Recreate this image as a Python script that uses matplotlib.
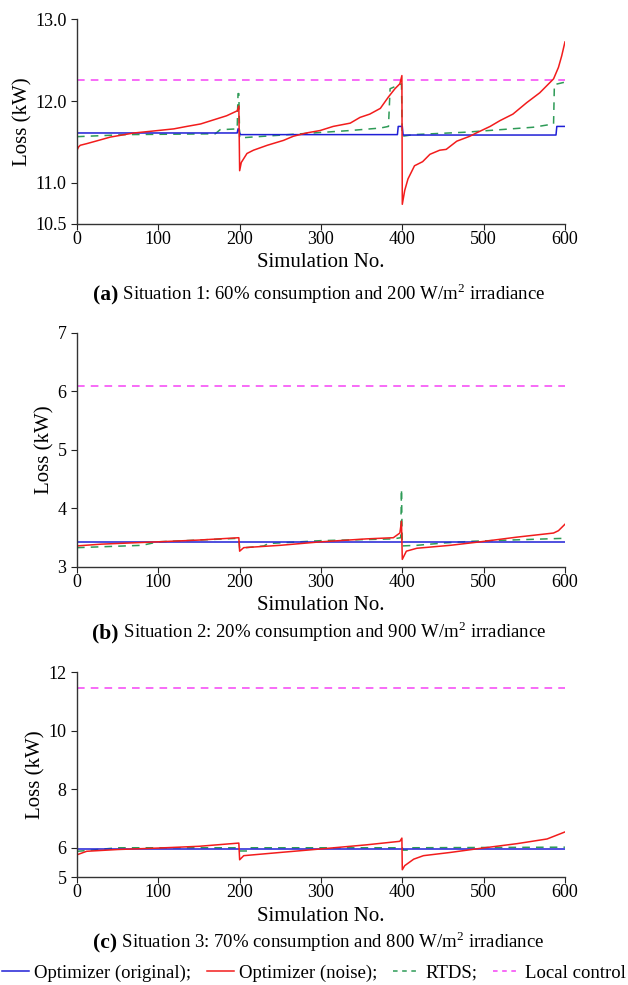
import matplotlib.pyplot as plt
from matplotlib.lines import Line2D
from matplotlib.offsetbox import TextArea, HPacker, AnchoredOffsetbox

plt.rcParams['font.family'] = ['Liberation Serif', 'DejaVu Serif']
plt.rcParams['mathtext.fontset'] = 'custom'
plt.rcParams['mathtext.rm'] = 'Liberation Serif'
plt.rcParams['mathtext.bf'] = 'Liberation Serif:bold'

# ---- Situation 1 ----
s1_orig_x = [0, 197, 198, 199, 200, 201, 394, 395, 400, 401, 589, 590, 600]
s1_orig_y = [11.61, 11.61, 11.66, 11.66, 11.61, 11.59, 11.59, 11.69, 11.69, 11.585, 11.585, 11.69, 11.69]
s1_noise_x = [0, 2, 4, 12, 23, 41, 70, 90, 119, 135, 152, 168, 184, 197, 199, 200,
              202, 209, 217, 234, 254, 266, 282, 299, 315, 336, 348, 360, 373, 383, 391, 397, 399.5, 400,
              403, 407, 415, 425, 434, 446, 454, 467, 483, 491, 508, 520, 536, 553, 569, 586, 592, 596, 600]
s1_noise_y = [11.40, 11.44, 11.46, 11.48, 11.51, 11.56, 11.61, 11.63, 11.66, 11.69, 11.72, 11.77, 11.82, 11.88, 11.94, 11.15,
              11.25, 11.36, 11.40, 11.46, 11.52, 11.57, 11.61, 11.64, 11.69, 11.73, 11.80, 11.84, 11.91, 12.05, 12.15, 12.21, 12.31, 10.74,
              10.91, 11.05, 11.21, 11.26, 11.35, 11.40, 11.41, 11.51, 11.57, 11.61, 11.69, 11.76, 11.84, 11.98, 12.10, 12.27, 12.41, 12.55, 12.72]
s1_rtds_x = [0, 60, 170, 176, 197, 198, 199, 200, 230, 275, 336, 373, 383, 385, 399, 400, 414, 479, 561, 586, 587, 600]
s1_rtds_y = [11.565, 11.59, 11.60, 11.65, 11.66, 12.09, 12.09, 11.55, 11.57, 11.60, 11.64, 11.67, 11.69, 12.15, 12.21, 11.57, 11.59, 11.62, 11.68, 11.72, 12.20, 12.23]
s1_local = 12.26

# ---- Situation 2 ----
s2_orig_x = [0, 600]
s2_orig_y = [3.43, 3.43]
s2_noise_x = [0, 30, 100, 150, 199, 200, 205, 250, 300, 356, 389, 397, 399, 400,
              405, 418, 459, 496, 541, 586, 592, 600]
s2_noise_y = [3.36, 3.39, 3.43, 3.46, 3.50, 3.27, 3.33, 3.37, 3.43, 3.48, 3.50, 3.58, 3.78, 3.13,
              3.27, 3.32, 3.37, 3.43, 3.51, 3.58, 3.62, 3.73]
s2_rtds_x = [0, 80, 100, 199, 200, 230, 235, 300, 389, 398, 399, 400, 418, 451, 487, 600]
s2_rtds_y = [3.33, 3.37, 3.43, 3.49, 3.32, 3.36, 3.40, 3.45, 3.48, 3.50, 4.33, 3.36, 3.37, 3.41, 3.44, 3.49]
s2_local = 6.09

# ---- Situation 3 ----
s3_orig_x = [0, 600]
s3_orig_y = [5.97, 5.97]
s3_noise_x = [0, 12, 50, 100, 150, 199, 200, 205, 250, 300, 356, 397, 399.5, 400,
              403, 414, 426, 459, 496, 541, 578, 600]
s3_noise_y = [5.76, 5.88, 5.94, 5.99, 6.05, 6.16, 5.59, 5.73, 5.84, 5.96, 6.10, 6.22, 6.33, 5.25,
              5.39, 5.61, 5.73, 5.84, 5.98, 6.14, 6.30, 6.54]
s3_rtds_x = [0, 10, 50, 199, 200, 210, 211, 400, 401, 410, 411, 600]
s3_rtds_y = [5.88, 5.90, 6.00, 6.00, 5.89, 5.89, 6.00, 6.00, 5.92, 5.92, 6.00, 6.02]
s3_local = 11.44

caption_tags = ['(a)', '(b)', '(c)']
caption_texts = [
    " Situation 1: 60% consumption and 200 W/m$^2$ irradiance",
    " Situation 2: 20% consumption and 900 W/m$^2$ irradiance",
    " Situation 3: 70% consumption and 800 W/m$^2$ irradiance",
]
yticks = [[10.5, 11.0, 12.0, 13.0], [3, 4, 5, 6, 7], [5, 6, 8, 10, 12]]
ytick_labels = [['10.5', '11.0', '12.0', '13.0'], ['3', '4', '5', '6', '7'], ['5', '6', '8', '10', '12']]
ylims = [(10.5, 13.0), (3, 7), (5, 12)]

c_orig = '#1f1fd6'
c_noise = '#f21c1c'
c_rtds = '#2e9b57'
c_local = '#f542f5'

data = [
    (s1_orig_x, s1_orig_y, s1_noise_x, s1_noise_y, s1_rtds_x, s1_rtds_y, s1_local),
    (s2_orig_x, s2_orig_y, s2_noise_x, s2_noise_y, s2_rtds_x, s2_rtds_y, s2_local),
    (s3_orig_x, s3_orig_y, s3_noise_x, s3_noise_y, s3_rtds_x, s3_rtds_y, s3_local),
]

fig = plt.figure(figsize=(6.28, 9.85), dpi=100)
rects = [[0.1226, 0.7726, 0.777, 0.2081],
         [0.1226, 0.4244, 0.777, 0.2376],
         [0.1226, 0.1096, 0.777, 0.2081]]
caption_y = [1 - 294 / 985, 1 - 632 / 985, 1 - 942 / 985]

for i, (ox, oy, nx, ny, rx, ry, loc) in enumerate(data):
    ax = fig.add_axes(rects[i])
    ax.plot([0, 600], [loc, loc], color=c_local, lw=1.1, dashes=(5, 4))
    ax.plot(rx, ry, color=c_rtds, lw=1.1, dashes=(5, 4))
    ax.plot(ox, oy, color=c_orig, lw=1.1)
    ax.plot(nx, ny, color=c_noise, lw=1.1)
    ax.set_xlim(0, 600)
    ax.set_ylim(*ylims[i])
    ax.set_xticks(range(0, 601, 100))
    ax.set_yticks(yticks[i])
    ax.set_yticklabels(ytick_labels[i])
    ax.spines['top'].set_visible(False)
    ax.spines['right'].set_visible(False)
    for s in ('left', 'bottom'):
        ax.spines[s].set_color('#333333')
        ax.spines[s].set_linewidth(1.0)
    ax.tick_params(direction='out', length=4, width=0.8, labelsize=13, colors='#222222', labelcolor='black')
    ax.tick_params(axis='x', pad=1)
    ax.set_xlabel('Simulation No.', fontsize=15, labelpad=4)
    ax.set_ylabel('Loss (kW)', fontsize=15, labelpad=2)

    tag = TextArea(caption_tags[i], textprops=dict(fontsize=15.5, fontweight='bold'))
    body = TextArea(caption_texts[i], textprops=dict(fontsize=13.5))
    box = HPacker(children=[tag, body], align='baseline', pad=0, sep=0)
    anchored = AnchoredOffsetbox(loc='center', child=box, pad=0, frameon=False,
                                 bbox_to_anchor=(0.508, caption_y[i]),
                                 bbox_transform=fig.transFigure, borderpad=0)
    fig.add_artist(anchored)

handles = [
    Line2D([], [], color=c_orig, lw=1.1),
    Line2D([], [], color=c_noise, lw=1.1),
    Line2D([], [], color=c_rtds, lw=1.1, dashes=(3, 3)),
    Line2D([], [], color=c_local, lw=1.1, dashes=(3, 3)),
]
labels = ['Optimizer (original);', 'Optimizer (noise);', 'RTDS;', 'Local control']
fig.legend(handles, labels, loc='center', bbox_to_anchor=(0.5, 1 - 973 / 985), ncol=4,
           frameon=False, fontsize=13.5, handlelength=1.45, handletextpad=0.3, columnspacing=0.8,
           borderaxespad=0, borderpad=0)

fig.savefig('out.png', dpi=100)
